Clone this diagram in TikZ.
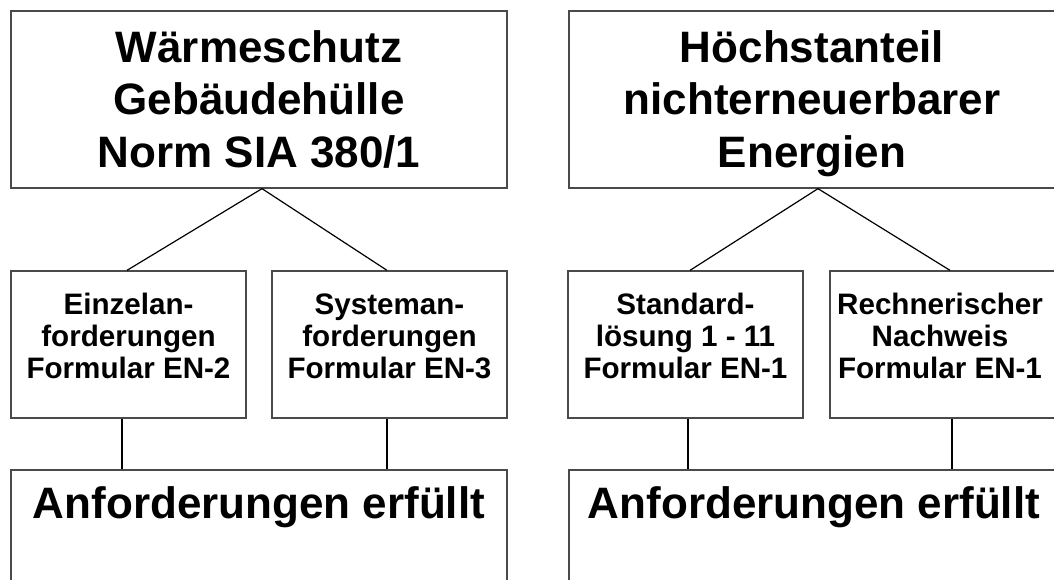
\documentclass[tikz,border=0pt]{standalone}
\usepackage{fontspec}
\setmainfont{Liberation Sans}
\begin{document}
\begin{tikzpicture}[x=1pt,y=-1pt,
  box/.style={draw=boxgray, line width=1.3pt, rectangle, inner sep=0pt, fill=white},
  bigbox/.style={box, minimum width=496pt, minimum height=177pt},
  smallbox/.style={box, minimum width=235pt, minimum height=147pt},
  endbox/.style={box, minimum width=496pt, minimum height=180pt},
  bigtext/.style={anchor=north, inner sep=0pt, align=center,
    font=\fontsize{44}{52.5}\selectfont\bfseries},
  smalltext/.style={anchor=north, inner sep=0pt, align=center,
    font=\fontsize{29.6}{32}\selectfont\bfseries},
  endtext/.style={anchor=base, inner sep=0pt,
    font=\fontsize{44}{52.5}\selectfont\bfseries},
  link/.style={draw=black, line width=1.2pt}]
\definecolor{boxgray}{HTML}{4A4A4A}
\useasboundingbox (0,0) rectangle (1054,580);
\clip (0,0) rectangle (1054,580);
\fill[white] (0,0) rectangle (1054,580);

% ---------- left column: building envelope ----------
\node[bigbox] (top1) at (259,99.5) {};
\node[bigtext] (top1t) at (259,25.25)
  {\strut Wärmeschutz\\\strut Gebäudehülle\\\strut Norm SIA 380/1};

\node[smallbox] (m1) at (128.5,344.5) {};
\node[smalltext] (m1t) at (128.5,291.6)
  {\strut Einzelan-\\\strut forderungen\\\strut Formular EN-2};
\node[smallbox] (m2) at (389.5,344.5) {};
\node[smalltext] (m2t) at (389.5,291.6)
  {\strut Systeman-\\\strut forderungen\\\strut Formular EN-3};

\node[endbox] (b1) at (259,560) {};
\node[endtext] (b1t) at (259,518) {Anforderungen erfüllt};

\draw[link] ([xshift=3pt]top1.south) -- ([xshift=-1.5pt]m1.north);
\draw[link] ([xshift=3pt]top1.south) -- ([xshift=-2.5pt]m2.north);
\draw[link] ([xshift=-6.5pt]m1.south) -- ([xshift=-6.5pt]m1.south |- b1.north);
\draw[link] ([xshift=-2.5pt]m2.south) -- ([xshift=-2.5pt]m2.south |- b1.north);

% ---------- right column: non-renewable energy share ----------
\node[bigbox] (top2) at (817,99.5) {};
\node[bigtext] (top2t) at (812,25.25)
  {\strut Höchstanteil\\\strut nichterneuerbarer\\\strut Energien};

\node[smallbox] (m3) at (685.5,344.5) {};
\node[smalltext] (m3t) at (685.5,291.6)
  {\strut Standard-\\\strut lösung 1 - 11\\\strut Formular EN-1};
\node[smallbox] (m4) at (947.5,344.5) {};
\node[smalltext] (m4t) at (940,291.6)
  {\strut Rechnerischer\\\strut Nachweis\\\strut Formular EN-1};

\node[endbox] (b2) at (817,560) {};
\node[endtext] (b2t) at (814,518) {Anforderungen erfüllt};

\draw[link] ([xshift=1pt]top2.south) -- ([xshift=4.5pt]m3.north);
\draw[link] ([xshift=1pt]top2.south) -- ([xshift=2.5pt]m4.north);
\draw[link] ([xshift=2.5pt]m3.south) -- ([xshift=2.5pt]m3.south |- b2.north);
\draw[link] ([xshift=4.5pt]m4.south) -- ([xshift=4.5pt]m4.south |- b2.north);
\end{tikzpicture}
\end{document}
